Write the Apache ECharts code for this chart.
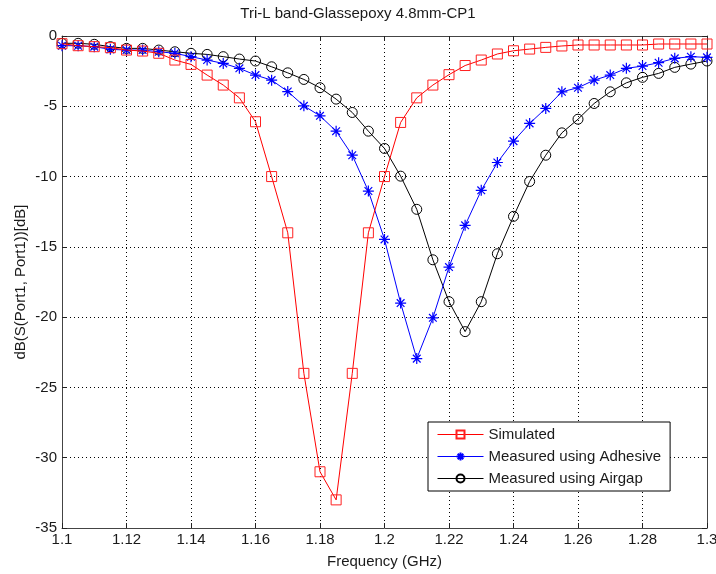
<!DOCTYPE html>
<html>
<head>
<meta charset="utf-8">
<script src="https://cdn.jsdelivr.net/npm/echarts@6/dist/echarts.min.js"></script>
<style>html,body{margin:0;padding:0;background:#fff}#c{width:716px;height:574px}</style>
</head>
<body>
<div id="c"></div>
<script>
const freq = [1.100,1.105,1.110,1.115,1.120,1.125,1.130,1.135,1.140,1.145,1.150,1.155,1.160,1.165,1.170,1.175,1.180,1.185,1.190,1.195,1.200,1.205,1.210,1.215,1.220,1.225,1.230,1.235,1.240,1.245,1.250,1.255,1.260,1.265,1.270,1.275,1.280,1.285,1.290,1.295,1.300];
const simulated = [-0.55,-0.69,-0.76,-0.83,-1.0,-1.07,-1.23,-1.71,-2.02,-2.78,-3.49,-4.4,-6.1,-10.0,-14.0,-24.0,-31.0,-33.0,-24.0,-14.0,-10.0,-6.15,-4.4,-3.49,-2.75,-2.1,-1.71,-1.28,-1.05,-0.93,-0.81,-0.71,-0.64,-0.64,-0.64,-0.64,-0.64,-0.57,-0.57,-0.57,-0.57];
const adhesive = [-0.69,-0.69,-0.76,-0.95,-1.0,-1.0,-1.12,-1.23,-1.47,-1.71,-1.95,-2.3,-2.78,-3.14,-3.95,-4.97,-5.68,-6.77,-8.48,-11.03,-14.47,-19.0,-22.95,-20.05,-16.44,-13.47,-10.98,-9.0,-7.48,-6.22,-5.15,-3.97,-3.68,-3.14,-2.78,-2.3,-2.14,-1.9,-1.59,-1.47,-1.52];
const airgap = [-0.52,-0.52,-0.59,-0.76,-0.88,-0.88,-1.0,-1.12,-1.23,-1.31,-1.47,-1.64,-1.78,-2.19,-2.62,-3.09,-3.68,-4.49,-5.44,-6.77,-8.0,-9.97,-12.33,-15.92,-18.9,-21.03,-18.9,-15.49,-12.83,-10.35,-8.48,-6.89,-5.92,-4.8,-3.97,-3.33,-2.94,-2.66,-2.23,-2.0,-1.78];
const seriesNames = ['Simulated','Measured using Adhesive','Measured using Airgap'];
const titleText = 'Tri-L band-Glassepoxy 4.8mm-CP1';
const xName = 'Frequency (GHz)';
const yName = 'dB(S(Port1, Port1))[dB]';

const FONT = 'Liberation Sans';
const FS = 15;
const TXT = '#1a1a1a';
const pairs = arr => freq.map((f,i)=>[f,arr[i]]);
const asterisk = 'path://M0,-6L0,6M-6,0L6,0M-4.2,-4.2L4.2,4.2M-4.2,4.2L4.2,-4.2';
const square = 'path://M0,0L10,0L10,10L0,10Z';
const circle = 'path://M10,5A5,5,0,1,1,0,5A5,5,0,1,1,10,5Z';

const chart = echarts.init(document.getElementById('c'), null, {renderer:'canvas'});
const axisCommon = {
  type:'value',
  axisLine:{show:true, onZero:false, lineStyle:{color:'#444', width:1}},
  axisTick:{show:true, inside:true, length:5, lineStyle:{color:'#222'}},
};
chart.setOption({
  animation:false,
  backgroundColor:'#fff',
  title:{text:titleText, left:'center', top:1, textStyle:{fontFamily:FONT, fontSize:FS, fontWeight:'normal', color:TXT}},
  grid:{left:62, top:36, right:9, bottom:46, containLabel:false, outerBoundsMode:'none'},
  legend:{
    orient:'vertical', left:428, top:422, data:seriesNames,
    backgroundColor:'#fff', borderColor:'#000', borderWidth:1,
    padding:[5,9,5,9], itemWidth:46, itemHeight:10, itemGap:7,
    lineStyle:{width:1},
    textStyle:{fontFamily:FONT, fontSize:FS, color:TXT}
  },
  xAxis:[
    Object.assign({}, axisCommon, {
      min:1.1, max:1.3, interval:0.02, position:'bottom',
      name:xName, nameLocation:'middle', nameGap:26,
      nameTextStyle:{fontFamily:FONT, fontSize:FS, color:TXT},
      axisLabel:{fontFamily:FONT, fontSize:FS, color:TXT, margin:4, formatter:v=>String(+v.toFixed(2))},
      splitLine:{show:true, lineStyle:{color:'#000', type:[1,3], width:1}}
    }),
    Object.assign({}, axisCommon, {
      min:1.1, max:1.3, interval:0.02, position:'top',
      axisLabel:{show:false}, splitLine:{show:false}
    })
  ],
  yAxis:[
    Object.assign({}, axisCommon, {
      min:-35, max:0, interval:5, position:'left',
      name:yName, nameLocation:'middle', nameGap:34, nameRotate:90, nameMoveOverlap:false,
      nameTextStyle:{fontFamily:FONT, fontSize:FS, color:TXT},
      axisLabel:{fontFamily:FONT, fontSize:FS, color:TXT, margin:5},
      splitLine:{show:true, lineStyle:{color:'#000', type:[1,3], width:1}}
    }),
    Object.assign({}, axisCommon, {
      min:-35, max:0, interval:5, position:'right',
      axisLabel:{show:false}, splitLine:{show:false}
    })
  ],
  series:[
    {name:seriesNames[0], type:'line', data:pairs(simulated), symbol:square, symbolSize:10,
     lineStyle:{color:'#ff0000', width:1}, itemStyle:{color:'rgba(0,0,0,0)', borderColor:'#ff2020', borderWidth:1}, z:3},
    {name:seriesNames[1], type:'line', data:pairs(adhesive), symbol:asterisk, symbolSize:11,
     lineStyle:{color:'#0000ff', width:1}, itemStyle:{color:'#0000ff', borderColor:'#0000ff', borderWidth:1.2}, z:2},
    {name:seriesNames[2], type:'line', data:pairs(airgap), symbol:circle, symbolSize:10,
     lineStyle:{color:'#000000', width:1}, itemStyle:{color:'rgba(0,0,0,0)', borderColor:'#000000', borderWidth:1}, z:1}
  ]
});
</script>
</body>
</html>
